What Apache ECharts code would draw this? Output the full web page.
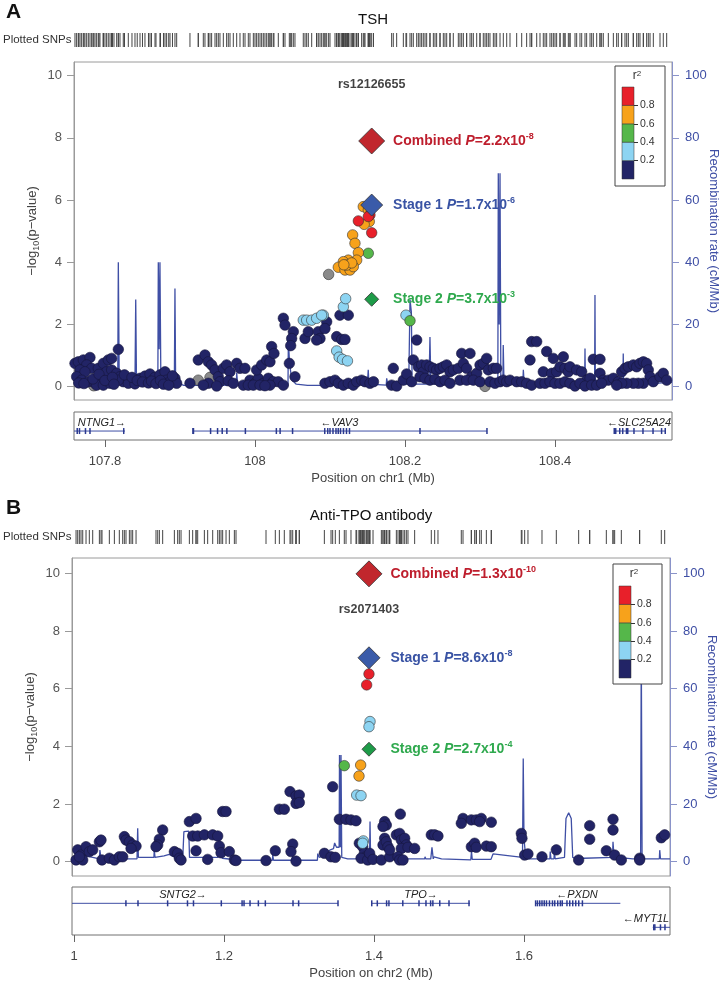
<!DOCTYPE html>
<html><head><meta charset="utf-8">
<script src="https://cdn.jsdelivr.net/npm/echarts@6/dist/echarts.min.js"></script>
<style>html,body{margin:0;padding:0;background:#fff}#c{width:722px;height:984px}</style>
</head><body><div id="c"></div>
<script>
// ---------------- r2 legend ----------------
const r2Breaks = [0, 0.2, 0.4, 0.6, 0.8, 1.0];
const r2Ticks = [0.2, 0.4, 0.6, 0.8];
const r2Colors = ['#222466', '#8DD4F2', '#55B74A', '#F7A21B', '#E8202A'];
const greyColor = '#8A8A8A';

// ---------------- Panel A: TSH, chr1 ----------------
const aTitle = 'TSH';
const aLead = 'rs12126655';
const aLeadX = 108.1556;
const aLeadLabelY = 9.73;
const aXTicks = [107.8, 108, 108.2, 108.4];
const aYTicks = [0, 2, 4, 6, 8, 10];
const aRecTicks = [0, 20, 40, 60, 80, 100];
const aStatNames = ['Combined', 'Stage 1', 'Stage 2'];
const aStatMant = ['2.2', '1.7', '3.7'];
const aStatExp = ['-8', '-6', '-3'];
const aStatY = [7.90, 5.84, 2.81];

const aNavy = [
[107.760,0.75],[107.7644,0.80],[107.7711,0.86],[107.7800,0.94],[107.7756,0.70],[107.7822,0.59],[107.7667,0.54],[107.7733,0.48],[107.7622,0.32],[107.7689,0.21],[107.7778,0.16],[107.7867,0.11],[107.7933,0.21],[107.7978,0.38],[107.7911,0.59],[107.7978,0.75],[107.8044,0.86],[107.8089,0.91],[107.8178,1.20],[107.8022,0.48],[107.8089,0.54],[107.8156,0.43],[107.8200,0.32],[107.8244,0.16],[107.8311,0.11],[107.8400,0.09],[107.8467,0.27],[107.8533,0.34],[107.8600,0.41],[107.8667,0.30],[107.8733,0.38],[107.8800,0.48],[107.8822,0.21],[107.8867,0.16],[107.8933,0.27],[107.8956,0.11],[107.7889,0.05],[107.7978,0.05],[107.8067,0.11],[107.8178,0.21],[107.7650,0.12],[107.7720,0.10],[107.7840,0.25],[107.7920,0.40],[107.8000,0.20],[107.8100,0.30],[107.8120,0.08],[107.8260,0.38],[107.8360,0.30],[107.8430,0.20],[107.8500,0.15],[107.8580,0.12],[107.8620,0.18],[107.8680,0.10],[107.8740,0.20],[107.8780,0.08],[107.8850,0.05],[107.8900,0.35],
[107.9133,0.11],[107.9244,0.86],[107.9333,1.02],[107.9378,0.80],[107.9422,0.70],[107.9467,0.54],[107.9511,0.32],[107.9578,0.59],[107.9622,0.70],[107.9667,0.48],[107.9756,0.75],[107.9800,0.59],[107.9867,0.59],[107.9933,0.21],[108.0000,0.11],[108.0044,0.27],[108.0111,0.11],[108.0178,0.27],[108.0244,0.16],[108.0311,0.16],[108.0378,0.05],[107.9844,0.05],[107.9911,0.05],[107.9978,0.05],[108.0022,0.54],[108.0089,0.70],[108.0156,0.86],[108.0200,0.80],[108.0222,1.29],[108.0253,1.07],[107.9533,0.16],[107.9644,0.19],[107.9378,0.11],[107.9311,0.05],[107.9489,0.02],[107.9711,0.11],[108.0200,0.05],[108.0067,0.05],[108.0133,0.03],
[108.0378,2.20],[108.0400,1.98],[108.0511,1.77],[108.0489,1.55],[108.0476,1.32],[108.0458,0.75],[108.0533,0.32],[108.0667,1.55],[108.0711,1.77],[108.0844,1.77],[108.0867,1.55],[108.0822,1.50],[108.0956,2.09],[108.0933,1.87],[108.1089,1.61],[108.1156,1.52],[108.1200,1.52],[108.1133,2.30],[108.1244,2.30],
[108.0933,0.11],[108.1000,0.16],[108.1067,0.21],[108.1111,0.11],[108.1178,0.05],[108.1244,0.11],[108.1311,0.05],[108.1356,0.16],[108.1422,0.21],[108.1467,0.16],[108.1533,0.11],[108.1580,0.16],
[108.1844,0.59],[108.1822,0.05],[108.1889,0.02],[108.1978,0.21],[108.2022,0.41],[108.2089,0.16],[108.2111,0.86],[108.2156,1.50],[108.2178,0.64],[108.2222,0.70],[108.2244,0.48],[108.2289,0.70],[108.2333,0.64],[108.2378,0.59],[108.2422,0.54],[108.2467,0.59],[108.2511,0.64],[108.2556,0.70],[108.2600,0.48],[108.2200,0.32],[108.2267,0.27],[108.2333,0.21],[108.2400,0.24],[108.2467,0.16],[108.2533,0.21],[108.2600,0.11],[108.2644,0.54],[108.2711,0.59],[108.2756,1.07],[108.2778,0.75],[108.2822,0.59],[108.2867,1.07],[108.2889,0.32],[108.2956,0.43],[108.3000,0.70],[108.3044,0.75],[108.3089,0.91],[108.3111,0.54],[108.3178,0.59],[108.3222,0.59],[108.2733,0.21],[108.2822,0.21],[108.2911,0.21],[108.3000,0.16],[108.3133,0.16],[108.3200,0.11],[108.3267,0.16],[108.3311,0.21],[108.3356,0.16],[108.3400,0.21],[108.3489,0.16],[108.3556,0.16],[108.3622,0.11],[108.3689,0.05],[108.3667,0.86],[108.3689,1.45],[108.3756,1.45],[108.3844,0.48],[108.3889,1.13],[108.3956,0.43],[108.3978,0.91],[108.4022,0.48],[108.4067,0.64],[108.4111,0.96],[108.4133,0.59],[108.4178,0.48],[108.4200,0.64],[108.4289,0.54],[108.4356,0.48],[108.4422,0.21],[108.4467,0.27],[108.4511,0.88],[108.4600,0.88],[108.4600,0.43],[108.4644,0.21],[108.4711,0.21],[108.4778,0.27],[108.4844,0.16],[108.4889,0.48],[108.4933,0.59],[108.4978,0.64],[108.5044,0.70],[108.5089,0.64],[108.5133,0.75],[108.5178,0.80],[108.5222,0.75],[108.5244,0.54],[108.5267,0.32],[108.5178,0.11],[108.5111,0.11],[108.5044,0.11],[108.4956,0.11],[108.4889,0.11],[108.4822,0.05],[108.5311,0.16],[108.5400,0.32],[108.5444,0.43],[108.5489,0.21],[108.3800,0.11],[108.3867,0.11],[108.3933,0.16],[108.4000,0.11],[108.4067,0.11],[108.4133,0.16],[108.4200,0.11],[108.4267,0.02],[108.4333,0.11],[108.4400,0.02],[108.4489,0.05],[108.4556,0.05],[108.4622,0.11]
];
const aGrey = [[107.785,0.03],[107.9244,0.21],[107.9400,0.30],[108.0982,3.61],[108.3067,0.01]];
const aLightBlue = [[108.1178,2.57],[108.1209,2.83],[108.0911,2.30],[108.0644,2.14],[108.0689,2.14],[108.0756,2.14],[108.0822,2.20],[108.0889,2.30],[108.1089,1.15],[108.1122,0.95],[108.1167,0.88],[108.1233,0.83],[108.2013,2.30]];
const aGreen = [[108.1511,4.29],[108.2067,2.12]];
const aOrange = [[108.1444,5.79],[108.1511,5.68],[108.1524,5.31],[108.1456,5.22],[108.1302,4.88],[108.1333,4.61],[108.1378,4.31],[108.1356,4.07],[108.1244,4.07],[108.1178,4.02],[108.1111,3.84],[108.1200,3.75],[108.1267,3.75],[108.1311,3.86],[108.1222,3.91],[108.1290,3.98],[108.1185,3.92]];
const aRed = [[108.1378,5.33],[108.1556,4.95],[108.1533,5.52],[108.1511,5.47]];

const aRecomb = [[107.758,1.2],[107.770,1.5],[107.790,1.0],[107.805,1.3],[107.8170,1.5],[107.8178,40],[107.8190,1.8],[107.830,1.2],[107.8400,1.5],[107.8410,28],[107.8420,2.0],[107.855,1.5],[107.8705,2.0],[107.8711,40],[107.8722,12],[107.8733,40],[107.8745,2.5],[107.885,1.5],[107.8925,1.5],[107.8933,31.6],[107.8942,1.5],[107.905,0.4],[107.94,0.4],[107.9750,0.5],[107.9756,4.5],[107.977,0.5],[108.01,0.4],[108.044,0.5],[108.0445,15],[108.046,8],[108.048,4],[108.050,2],[108.055,0.8],[108.07,0.4],[108.093,0.4],[108.0935,2],[108.10,1.5],[108.13,1.5],[108.150,1.5],[108.151,5.4],[108.152,0.8],[108.175,0.5],[108.1756,2.7],[108.177,0.8],[108.205,0.8],[108.2067,28],[108.2085,24],[108.2095,0.8],[108.232,0.8],[108.2333,16],[108.2345,0.8],[108.26,1],[108.29,0.8],[108.3238,0.8],[108.3244,68.6],[108.3256,20],[108.3267,68.6],[108.3278,1],[108.3305,1],[108.331,13.4],[108.332,1],[108.357,0.8],[108.3578,5.4],[108.359,0.8],[108.40,0.8],[108.4395,0.8],[108.44,12.3],[108.4405,0.8],[108.4528,0.8],[108.4533,29.5],[108.4538,0.8],[108.4905,0.8],[108.491,10.7],[108.4915,0.8],[108.52,0.8],[108.556,1.5]];

const aGeneNames = ['NTNG1\u2192', '\u2190VAV3', '\u2190SLC25A24'];
const aGeneStart = [107.60, 107.9173, 108.479];
const aGeneEnd = [107.8267, 108.3093, 108.547];
const aGeneRow = [0, 0, 0];
const aGeneLabelX = [107.796, 108.1125, 108.512];
const aExons = [107.763,107.766,107.774,107.780,107.825,107.9173,107.9180,107.9408,107.9501,107.9563,107.9625,107.9872,108.0285,108.0335,108.0501,108.093,108.097,108.100,108.104,108.108,108.111,108.114,108.118,108.122,108.126,108.22,108.3093,108.479,108.481,108.4863,108.4903,108.4953,108.497,108.5053,108.5173,108.5307,108.5421,108.547];
const aExonRow = aExons.map(() => 0);

// ---------------- Panel B: Anti-TPO antibody, chr2 ----------------
const bTitle = 'Anti-TPO antibody';
const bLead = 'rs2071403';
const bLeadX = 1.3933;
const bLeadLabelY = 8.73;
const bXTicks = [1, 1.2, 1.4, 1.6];
const bYTicks = [0, 2, 4, 6, 8, 10];
const bRecTicks = [0, 20, 40, 60, 80, 100];
const bStatNames = ['Combined', 'Stage 1', 'Stage 2'];
const bStatMant = ['1.3', '8.6', '2.7'];
const bStatExp = ['-10', '-8', '-4'];
const bStatY = [9.98, 7.07, 3.90];

const bNavy = [
[1.0049,0.41],[1.0093,0.23],[1.0027,0.06],[1.0116,0.06],[1.0160,0.52],[1.0204,0.35],[1.0071,0.17],[1.0249,0.41],[1.0338,0.69],[1.0360,0.75],[1.0373,0.06],[1.0471,0.12],[1.0538,0.06],[1.0604,0.17],[1.0649,0.17],[1.0671,0.87],[1.0693,0.75],[1.0738,0.69],[1.0782,0.58],[1.0827,0.54],[1.0760,0.46],[1.1182,1.10],[1.1138,0.78],[1.1116,0.58],[1.1093,0.52],[1.1338,0.35],[1.1382,0.29],[1.1404,0.12],[1.1427,0.06],[1.1538,1.39],[1.1627,1.50],[1.1582,0.89],[1.1649,0.89],[1.1738,0.93],[1.1849,0.93],[1.1916,0.89],[1.1627,0.38],[1.1782,0.08],[1.1938,0.54],[1.1960,0.31],[1.2071,0.35],[1.2138,0.06],[1.2160,0.04],[1.1982,1.74],[1.2027,1.74],[1.2560,0.04],[1.2684,0.38],[1.2738,1.82],[1.2804,1.82],[1.2880,2.43],[1.2960,2.28],[1.3004,2.31],[1.2960,2.02],[1.3004,2.05],[1.2916,0.61],[1.2893,0.35],[1.2960,0.02],[1.3338,0.29],[1.3427,0.17],[1.3484,0.15],[1.3449,2.60],[1.3538,1.47],[1.3627,1.47],[1.3693,1.45],[1.3760,1.42],[1.3804,0.64],[1.3849,0.52],[1.3871,0.29],[1.3893,0.17],[1.3827,0.12],[1.3916,0.06],
[1.3942,0.29],[1.3987,0.08],[1.4098,0.06],[1.4142,1.39],[1.4164,1.27],[1.4120,1.22],[1.4209,0.17],[1.4142,0.81],[1.4120,0.58],[1.4164,0.69],[1.4187,0.52],[1.4209,0.41],[1.4298,0.93],[1.4342,0.98],[1.4364,0.75],[1.4409,0.81],[1.4431,0.58],[1.4364,0.46],[1.4320,0.17],[1.4342,0.06],[1.4387,0.06],[1.4453,0.50],[1.4542,0.46],[1.4351,1.65],[1.4764,0.93],[1.4809,0.93],[1.4853,0.89],[1.5187,1.50],[1.5164,1.33],[1.5298,1.45],[1.5364,1.45],[1.5431,1.50],[1.5409,1.39],[1.5564,1.37],[1.5298,0.52],[1.5342,0.64],[1.5364,0.50],[1.5498,0.54],[1.5564,0.52],[1.5964,0.98],[1.5973,0.81],[1.6009,0.23],[1.6053,0.27],[1.6240,0.17],[1.6431,0.41],[1.6729,0.06],[1.6876,1.25],[1.6876,0.78],[1.7187,1.47],[1.7187,1.10],[1.7098,0.38],[1.7209,0.23],[1.7298,0.06],[1.7542,0.12],[1.7542,0.06],[1.7831,0.83],[1.7876,0.93]
];
const bGrey = [];
const bLightBlue = [[1.3947,4.86],[1.3933,4.68],[1.3769,2.31],[1.3827,2.29],[1.3858,0.72],[1.3849,0.64]];
const bGreen = [[1.3604,3.33]];
const bOrange = [[1.3822,3.35],[1.3800,2.97]];
const bRed = [[1.3933,6.51],[1.3902,6.13]];

const bRecomb = [[0.997,1.5],[1.005,1],[1.015,2],[1.025,1.5],[1.0338,1],[1.0345,4],[1.036,1.2],[1.05,1],[1.07,1],[1.0840,1],[1.0849,11.6],[1.0858,1.5],[1.10,1.5],[1.1065,1.5],[1.107,4],[1.108,1.5],[1.12,2],[1.127,2.5],[1.135,1.5],[1.145,1.5],[1.1465,10.4],[1.1530,10.6],[1.1540,1.5],[1.17,1.5],[1.1916,1.5],[1.194,2.5],[1.198,1.2],[1.22,0.5],[1.26,0.5],[1.2645,0.5],[1.265,2.3],[1.266,0.5],[1.29,0.5],[1.2916,2],[1.293,0.5],[1.3245,0.5],[1.325,2.8],[1.327,1.5],[1.333,2],[1.341,4],[1.346,4.5],[1.3475,6.5],[1.350,5],[1.3535,5],[1.3540,37],[1.3552,5],[1.3560,37],[1.3570,1.5],[1.365,1],[1.375,1],[1.3940,1],[1.3947,13.9],[1.3955,1],[1.41,1],[1.4676,1],[1.468,1.7],[1.469,1],[1.4757,1],[1.4773,5],[1.479,1],[1.48,1.7],[1.49,1],[1.5290,0.6],[1.5300,3.5],[1.5310,0.8],[1.556,0.8],[1.5587,2.7],[1.5980,1.5],[1.5990,35.8],[1.6000,8],[1.6015,8],[1.6025,1],[1.62,1],[1.6345,1],[1.6350,3.5],[1.6360,1],[1.6400,1],[1.6405,4],[1.6415,1],[1.6540,1.5],[1.6560,15],[1.6596,17],[1.6630,15],[1.6650,1.5],[1.67,1],[1.68,1.2],[1.7180,1.5],[1.7187,6.9],[1.7200,2],[1.725,1.5],[1.745,1],[1.7555,1],[1.7564,75],[1.7575,1],[1.77,1],[1.7805,1],[1.7810,4],[1.7820,1],[1.7947,1]];

const bGeneNames = ['SNTG2\u2192', 'TPO\u2192', '\u2190PXDN', '\u2190MYT1L'];
const bGeneStart = [0.90, 1.397, 1.6155, 1.7717];
const bGeneEnd = [1.352, 1.528, 1.7285, 1.85];
const bGeneRow = [0, 0, 0, 1];
const bGeneLabelX = [1.1453, 1.4627, 1.6707, 1.7627];
const bExons = [1.0692,1.0853,1.1248,1.1513,1.1593,1.1964,1.2241,1.2267,1.2347,1.2458,1.2551,1.292,1.2995,1.352,1.397,1.4044,1.4168,1.4199,1.4384,1.46,1.4693,1.4755,1.4785,1.4877,1.5,1.5267,1.6155,1.618,1.621,1.624,1.627,1.630,1.634,1.638,1.641,1.645,1.6485,1.651,1.6573,1.661,1.665,1.669,1.673,1.6779,1.773,1.7745,1.782,1.788];
const bExonRow = [0,0,0,0,0,0,0,0,0,0,0,0,0,0,0,0,0,0,0,0,0,0,0,0,0,0,0,0,0,0,0,0,0,0,0,0,0,0,0,0,0,0,0,0,1,1,1,1];

// ---------------- styling / layout ----------------
const FONT = 'Liberation Sans, Arial, Helvetica, sans-serif';
const recColor = '#3F4FA5';
const statColors = ['#BE1E2D', '#3953A4', '#2FA94E'];
const diamondFill = ['#C1272D', '#3A5BA9', '#1E9B48'];
const diamondSize = [26, 22, 14];
const dotSize = 10.5;

const panels = [
  {title: aTitle, letter: 'A', lead: aLead, leadX: aLeadX, leadLabelY: aLeadLabelY, xTicks: aXTicks, yTicks: aYTicks, recTicks: aRecTicks,
   statNames: aStatNames, statMant: aStatMant, statExp: aStatExp, statY: aStatY,
   classes: [aNavy, aLightBlue, aGreen, aOrange, aRed], grey: aGrey, recomb: aRecomb,
   genes: {names: aGeneNames, start: aGeneStart, end: aGeneEnd, row: aGeneRow, labelX: aGeneLabelX, rows: 1},
   exons: aExons, exonRow: aExonRow, xTitle: 'Position on chr1 (Mb)',
   L: {left: 74, width: 598, top0: 0, barTop: 33, mainTop: 62, mainH: 338, geneTop: 412, geneH: 28,
       xMin: 107.7587, xMax: 108.5560, yMin: -0.428, yMax: 10.44, legX: 615, legY: 66, legW: 50, legH: 120, barL: 622, barT: 87}},
  {title: bTitle, letter: 'B', lead: bLead, leadX: bLeadX, leadLabelY: bLeadLabelY, xTicks: bXTicks, yTicks: bYTicks, recTicks: bRecTicks,
   statNames: bStatNames, statMant: bStatMant, statExp: bStatExp, statY: bStatY,
   classes: [bNavy, bLightBlue, bGreen, bOrange, bRed], grey: bGrey, recomb: bRecomb,
   genes: {names: bGeneNames, start: bGeneStart, end: bGeneEnd, row: bGeneRow, labelX: bGeneLabelX, rows: 2},
   exons: bExons, exonRow: bExonRow, xTitle: 'Position on chr2 (Mb)',
   L: {left: 72, width: 598, top0: 496, barTop: 530, mainTop: 558, mainH: 318, geneTop: 887, geneH: 48,
       xMin: 0.9973, xMax: 1.7947, yMin: -0.496, yMax: 10.53, legX: 613, legY: 564, legW: 49, legH: 120, barL: 619, barT: 586}}
];

const option = {animation: false, textStyle: {fontFamily: FONT}, grid: [], xAxis: [], yAxis: [], series: [], graphic: []};
const fmt = v => String(+(+v).toFixed(2));
const gridBase = {outerBoundsMode: 'none', containLabel: false};

panels.forEach(P => {
  const L = P.L;
  const g = option.grid.length, xi = option.xAxis.length, yi = option.yAxis.length;
  option.grid.push(Object.assign({left: L.left, width: L.width, top: L.barTop, height: 14, show: false}, gridBase));
  option.grid.push(Object.assign({left: L.left, width: L.width, top: L.mainTop, height: L.mainH, show: true, borderColor: '#9a9a9a', borderWidth: 1}, gridBase));
  option.grid.push(Object.assign({left: L.left, width: L.width, top: L.geneTop, height: L.geneH, show: true, borderColor: '#707070', borderWidth: 1}, gridBase));
  option.grid.push(Object.assign({left: L.barL, width: 12, top: L.barT, height: 92, show: false, z: 30}, gridBase));

  const xr = {type: 'value', min: L.xMin, max: L.xMax};
  option.xAxis.push(Object.assign({gridIndex: g, show: false}, xr));
  option.xAxis.push(Object.assign({gridIndex: g + 1, show: false}, xr));
  option.xAxis.push(Object.assign({gridIndex: g + 2, position: 'bottom', splitLine: {show: false},
    axisLine: {show: false, onZero: false},
    axisTick: {show: true, customValues: P.xTicks, length: 7, lineStyle: {color: '#666'}},
    axisLabel: {customValues: P.xTicks, formatter: fmt, fontSize: 13, color: '#444', margin: 15},
    name: P.xTitle, nameLocation: 'middle', nameGap: 32, nameMoveOverlap: false, nameTextStyle: {fontSize: 13, color: '#444'}}, xr));
  option.xAxis.push({type: 'category', data: ['r2'], gridIndex: g + 3, show: false});

  option.yAxis.push({type: 'value', gridIndex: g, min: 0, max: 1, show: false});
  option.yAxis.push({type: 'value', gridIndex: g + 1, min: L.yMin, max: L.yMax, position: 'left', splitLine: {show: false},
    axisLine: {show: true, onZero: false, lineStyle: {color: '#9a9a9a'}},
    axisTick: {show: true, customValues: P.yTicks, length: 7, lineStyle: {color: '#9a9a9a'}},
    axisLabel: {customValues: P.yTicks, fontSize: 13, color: '#555', margin: 12},
    name: '\u2212log{s|10}(p\u2212value)', nameLocation: 'middle', nameGap: 33, nameMoveOverlap: false,
    nameTextStyle: {fontSize: 13, color: '#444', lineHeight: 18, rich: {s: {fontSize: 9, color: '#444', verticalAlign: 'bottom'}}}});
  option.yAxis.push({type: 'value', gridIndex: g + 1, min: L.yMin * 10, max: L.yMax * 10, position: 'right', splitLine: {show: false},
    axisLine: {show: true, onZero: false, lineStyle: {color: '#8a93c9'}},
    axisTick: {show: true, customValues: P.recTicks, length: 7, lineStyle: {color: '#8a93c9'}},
    axisLabel: {customValues: P.recTicks, fontSize: 13, color: recColor, margin: 13},
    name: 'Recombination rate (cM/Mb)', nameLocation: 'middle', nameGap: 35, nameRotate: -90, nameMoveOverlap: false,
    nameTextStyle: {fontSize: 13, color: recColor}});
  option.yAxis.push({type: 'value', gridIndex: g + 2, min: 0, max: P.genes.rows, inverse: true, show: false});
  option.yAxis.push({type: 'value', gridIndex: g + 3, min: 0, max: 1, position: 'right', z: 31, splitLine: {show: false},
    axisLine: {show: false},
    axisTick: {show: true, customValues: r2Ticks, length: 4, lineStyle: {color: '#333'}},
    axisLabel: {customValues: r2Ticks, formatter: v => (+v).toFixed(1), fontSize: 10.5, color: '#333', margin: 6}});

  // barcode of plotted SNPs
  const allSnps = [].concat(...P.classes, P.grey).map(p => [p[0], 0.5]);
  option.series.push({type: 'scatter', xAxisIndex: xi, yAxisIndex: yi, symbol: 'rect', symbolSize: [1, 14],
    itemStyle: {color: '#444', opacity: 1}, data: allSnps, silent: true});

  // recombination rate
  option.series.push({type: 'line', xAxisIndex: xi + 1, yAxisIndex: yi + 2, data: P.recomb, showSymbol: false, z: 1,
    lineStyle: {color: recColor, width: 1.3}});

  // r2 classes
  option.series.push({type: 'scatter', xAxisIndex: xi + 1, yAxisIndex: yi + 1, data: P.grey, symbolSize: dotSize, z: 3,
    itemStyle: {color: greyColor, borderColor: '#333', borderWidth: 0.6, opacity: 1}});
  P.classes.forEach((arr, k) => {
    option.series.push({type: 'scatter', xAxisIndex: xi + 1, yAxisIndex: yi + 1, data: arr, symbolSize: dotSize, z: k === 0 ? 3 : 4,
      itemStyle: {color: r2Colors[k], borderColor: k === 0 ? '#15163d' : '#333', borderWidth: 0.6, opacity: 1}});
  });

  // stat diamonds
  option.series.push({type: 'scatter', xAxisIndex: xi + 1, yAxisIndex: yi + 1, z: 6, symbol: 'diamond',
    data: P.statY.map((y, k) => ({value: [P.leadX, y], symbolSize: diamondSize[k],
      itemStyle: {color: diamondFill[k], borderColor: '#333', borderWidth: 0.8, opacity: 1},
      label: {show: true, position: 'right', distance: 21 - diamondSize[k] / 2,
        formatter: '{t|' + P.statNames[k] + ' }{i|P}{t|=' + P.statMant[k] + 'x10}{s|' + P.statExp[k] + '}',
        rich: {t: {fontSize: 14, fontWeight: 'bold', color: statColors[k], lineHeight: 18},
               i: {fontSize: 14, fontWeight: 'bold', fontStyle: 'italic', color: statColors[k], lineHeight: 18},
               s: {fontSize: 9, fontWeight: 'bold', color: statColors[k], verticalAlign: 'top', lineHeight: 18}}}}))});
  // lead SNP name
  option.series.push({type: 'scatter', xAxisIndex: xi + 1, yAxisIndex: yi + 1, z: 6, symbolSize: 0.1,
    itemStyle: {color: 'rgba(0,0,0,0)'}, data: [[P.leadX, P.leadLabelY]],
    label: {show: true, position: 'inside', formatter: P.lead, fontSize: 12.5, fontWeight: 'bold', color: '#111'}});

  // genes
  const G = P.genes;
  option.series.push({type: 'custom', xAxisIndex: xi + 2, yAxisIndex: yi + 3, clip: true, z: 3,
    data: G.names.map((n, k) => [G.start[k], G.end[k], G.row[k] + 0.68, G.labelX[k]]),
    renderItem: (params, api) => {
      const s = api.coord([api.value(0), api.value(2)]);
      const e = api.coord([api.value(1), api.value(2)]);
      const l = api.coord([api.value(3), api.value(2)]);
      return {type: 'group', children: [
        {type: 'line', shape: {x1: s[0], y1: s[1], x2: e[0], y2: e[1]}, style: {stroke: recColor, lineWidth: 1}},
        {type: 'text', x: l[0], y: l[1] - 8.5, style: {text: G.names[params.dataIndex], fill: '#222',
          font: 'italic 11px ' + FONT, textAlign: 'center', textVerticalAlign: 'middle'}}
      ]};
    }});
  option.series.push({type: 'scatter', xAxisIndex: xi + 2, yAxisIndex: yi + 3, z: 4, symbol: 'rect', symbolSize: [1.5, 6],
    itemStyle: {color: '#2B3990', opacity: 1}, data: P.exons.map((x, k) => [x, P.exonRow[k] + 0.68])});

  // r2 legend colour bar
  option.series.push({type: 'custom', xAxisIndex: xi + 3, yAxisIndex: yi + 4, z: 31,
    data: r2Colors.map((c, k) => [0, r2Breaks[k], r2Breaks[k + 1]]),
    renderItem: (params, api) => {
      const cs = params.coordSys;
      const a = api.coord([0, api.value(1)]), b = api.coord([0, api.value(2)]);
      return {type: 'rect', shape: {x: cs.x, y: b[1], width: cs.width, height: a[1] - b[1]},
        style: {fill: r2Colors[params.dataIndex], stroke: '#333', lineWidth: 0.5}};
    }});

  // decorations
  option.graphic.push(
    {type: 'text', x: 6, y: L.top0 + 2, style: {text: P.letter, font: 'bold 21px ' + FONT, fill: '#111'}},
    {type: 'text', x: L.left + L.width / 2, y: L.top0 + 20, style: {text: P.title, font: '15px ' + FONT, fill: '#111', textAlign: 'center', textVerticalAlign: 'middle'}},
    {type: 'text', x: 3, y: L.barTop + 7, style: {text: 'Plotted SNPs', font: '11.5px ' + FONT, fill: '#333', textVerticalAlign: 'middle'}},
    {type: 'rect', z: 20, shape: {x: L.legX, y: L.legY, width: L.legW, height: L.legH}, style: {fill: '#fff', stroke: '#444', lineWidth: 1}},
    {type: 'text', z: 32, x: L.barL + 15, y: L.legY + 10, style: {text: 'r{s|2}', font: '12px ' + FONT, fill: '#333', textAlign: 'center', textVerticalAlign: 'middle',
      rich: {s: {fontSize: 8, verticalAlign: 'top', fill: '#333'}}}}
  );
});

const chart = echarts.init(document.getElementById('c'), null, {renderer: 'canvas'});
chart.setOption(option);
</script></body></html>
